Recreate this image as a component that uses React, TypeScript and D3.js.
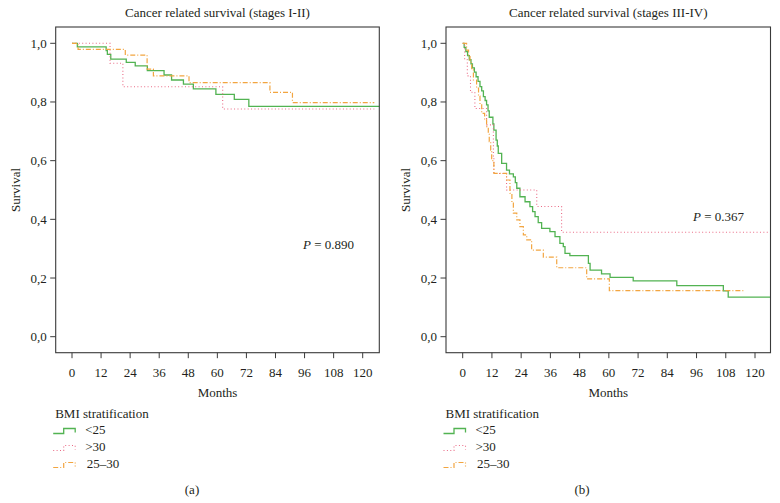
import React from "react";
import * as d3 from "d3";

// ---------- data ----------
const xTicks = [0, 12, 24, 36, 48, 60, 72, 84, 96, 108, 120];
const yTicks = [0, 0.2, 0.4, 0.6, 0.8, 1.0];
const yTickLabels = ["0,0", "0,2", "0,4", "0,6", "0,8", "1,0"];
const legendLabels = ["<25", ">30", "25\u201330"];
const titles = ["Cancer related survival (stages I-II)", "Cancer related survival (stages III-IV)"];
const pValues = ["0.890", "0.367"];
const panelTags = ["(a)", "(b)"];

// Panel (a): stages I-II
const aGreenT = [0, 2.2, 14.1, 14.6, 16, 22.4, 26.1, 31.1, 38, 41.1, 46, 50.1, 59.4, 67, 73, 128];
const aGreenS = [1, 0.988, 0.975, 0.962, 0.946, 0.935, 0.923, 0.907, 0.892, 0.875, 0.861, 0.845, 0.826, 0.809, 0.785, 0.785];
const aPinkT = [0, 15.7, 21, 62.2, 124.8];
const aPinkS = [1, 0.932, 0.852, 0.776, 0.776];
const aOrangeT = [0, 2.5, 22, 31, 33.6, 48.3, 81.7, 91, 124.8];
const aOrangeS = [1, 0.979, 0.96, 0.912, 0.889, 0.866, 0.833, 0.798, 0.798];

// Panel (b): stages III-IV
const bGreenT = [0, 0.6, 1.3, 2.0, 2.7, 3.4, 4.0, 4.8, 5.5, 6.3, 7.1, 7.8, 8.5, 9.2, 9.8, 10.4, 10.9, 12.4, 12.8, 13.7, 14.2, 14.6, 16, 18, 19.2, 20.8, 21.6, 22.2, 23.5, 25.6, 27.6, 28.7, 29.7, 31, 32.4, 35.8, 37.9, 39.9, 41.3, 42, 44, 51.6, 52.3, 57, 60.5, 70, 87.9, 107, 109, 128];
const bGreenS = [1, 0.986, 0.972, 0.958, 0.944, 0.93, 0.916, 0.902, 0.886, 0.87, 0.852, 0.838, 0.818, 0.805, 0.79, 0.77, 0.748, 0.725, 0.704, 0.67, 0.65, 0.625, 0.591, 0.568, 0.555, 0.545, 0.525, 0.506, 0.477, 0.46, 0.443, 0.426, 0.409, 0.389, 0.369, 0.358, 0.341, 0.318, 0.307, 0.284, 0.276, 0.25, 0.227, 0.214, 0.202, 0.19, 0.174, 0.156, 0.135, 0.135];
const bPinkT = [0, 0.8, 1.9, 3.2, 5.0, 9.8, 12.6, 12.8, 18, 30.4, 40.6, 126];
const bPinkS = [1, 0.944, 0.889, 0.833, 0.778, 0.722, 0.611, 0.556, 0.5, 0.444, 0.356, 0.356];
const bOrangeT = [0, 1.6, 2.4, 3.0, 3.7, 4.4, 5.7, 6.5, 7.1, 7.8, 9.0, 9.8, 10.5, 10.9, 11.5, 11.9, 12.8, 18, 19.4, 20.2, 20.8, 22.2, 23.5, 24.9, 26.3, 28.3, 33.1, 38.6, 50.9, 60.2, 115.2];
const bOrangeS = [1, 0.977, 0.955, 0.935, 0.91, 0.875, 0.847, 0.82, 0.79, 0.761, 0.74, 0.716, 0.69, 0.665, 0.636, 0.6, 0.557, 0.534, 0.489, 0.455, 0.421, 0.398, 0.375, 0.347, 0.33, 0.295, 0.271, 0.235, 0.197, 0.157, 0.157];

// ---------- styles ----------
const FONT = "'Liberation Serif', 'Times New Roman', serif";
const seriesStyle = [
  { color: "#52b352", dash: undefined as string | undefined, width: 1.3 },
  { color: "#ea6a85", dash: "1,2.4", width: 1.1 },
  { color: "#f2a540", dash: "5,2,1,2", width: 1.2 },
];

const panels = [
  {
    box: [55.7, 379.3], x0: 72, x120: 362.7, offset: 0, tagX: 192, pX: 303, pY: 249,
    series: [[aGreenT, aGreenS], [aPinkT, aPinkS], [aOrangeT, aOrangeS]],
  },
  {
    box: [446, 770.5], x0: 462.7, x120: 755, offset: 390, tagX: 582, pX: 693, pY: 221,
    series: [[bGreenT, bGreenS], [bPinkT, bPinkS], [bOrangeT, bOrangeS]],
  },
];

const TOP = 27;
const BOTTOM = 352.7;

function Panel({ p, idx }: { p: (typeof panels)[number]; idx: number }) {
  const x = d3.scaleLinear().domain([0, 120]).range([p.x0, p.x120]);
  const y = d3.scaleLinear().domain([0, 1]).range([336.7, 43.3]);
  const line = d3
    .line<[number, number]>()
    .x((d) => x(d[0]))
    .y((d) => y(d[1]))
    .curve(d3.curveStepAfter);
  const [bx0, bx1] = p.box;
  const cx = (bx0 + bx1) / 2;
  const clipId = `clip${idx}`;
  const legX = bx0 - 1.5;
  return (
    <g fontFamily={FONT} fill="#231f20">
      <defs>
        <clipPath id={clipId}>
          <rect x={bx0} y={TOP} width={bx1 - bx0} height={BOTTOM - TOP} />
        </clipPath>
      </defs>
      <text x={cx} y={17} textAnchor="middle" fontSize={13}>
        {titles[idx]}
      </text>
      <g clipPath={`url(#${clipId})`}>
        {p.series.map((s, i) => {
          const pts = (s[0] as number[]).map((t, k) => [t, (s[1] as number[])[k]] as [number, number]);
          return (
            <path
              key={i}
              d={line(pts) || ""}
              fill="none"
              stroke={seriesStyle[i].color}
              strokeWidth={seriesStyle[i].width}
              strokeDasharray={seriesStyle[i].dash}
            />
          );
        })}
      </g>
      <rect x={bx0} y={TOP} width={bx1 - bx0} height={BOTTOM - TOP} fill="none" stroke="#3a3a3a" strokeWidth={1.1} />
      {yTicks.map((t, i) => (
        <g key={t}>
          <line x1={bx0 - 5.5} x2={bx0} y1={y(t)} y2={y(t)} stroke="#3a3a3a" strokeWidth={1} />
          <text x={bx0 - 9} y={y(t) + 4.5} textAnchor="end" fontSize={13}>
            {yTickLabels[i]}
          </text>
        </g>
      ))}
      {xTicks.map((t) => (
        <g key={t}>
          <line x1={x(t)} x2={x(t)} y1={BOTTOM} y2={BOTTOM + 5.5} stroke="#3a3a3a" strokeWidth={1} />
          <text x={x(t)} y={377} textAnchor="middle" fontSize={13}>
            {t}
          </text>
        </g>
      ))}
      <text x={cx} y={397} textAnchor="middle" fontSize={13}>
        Months
      </text>
      <text transform={`translate(${bx0 - 36},190) rotate(-90)`} textAnchor="middle" fontSize={13}>
        Survival
      </text>
      <text x={p.pX} y={p.pY} fontSize={13}>
        <tspan fontStyle="italic">P</tspan> = {pValues[idx]}
      </text>
      <text x={legX + 1} y={417.5} fontSize={13}>
        BMI stratification
      </text>
      {legendLabels.map((lab, i) => {
        const cy = [429.5, 446.5, 463.5][i] + 1.5;
        const st = seriesStyle[i];
        return (
          <g key={lab}>
            <path
              d={`M${legX - 1},${cy + 2.5} H${legX + 9.5} V${cy - 2.5} H${legX + 21} V${cy + 1.5}`}
              fill="none"
              stroke={st.color}
              strokeWidth={st.width}
              strokeDasharray={st.dash}
            />
            <text x={legX + 31 + (i === 2 ? 1.5 : 0)} y={cy + 3} fontSize={13}>
              {lab}
            </text>
          </g>
        );
      })}
      <text x={p.tagX} y={494} textAnchor="middle" fontSize={13}>
        {panelTags[idx]}
      </text>
    </g>
  );
}

export default function App() {
  return (
    <svg
      width={780}
      height={503}
      style={{ position: "absolute", left: 0, top: 0, background: "#fff" }}
    >
      <rect width={780} height={503} fill="#fff" />
      {panels.map((p, i) => (
        <Panel key={i} p={p} idx={i} />
      ))}
    </svg>
  );
}
